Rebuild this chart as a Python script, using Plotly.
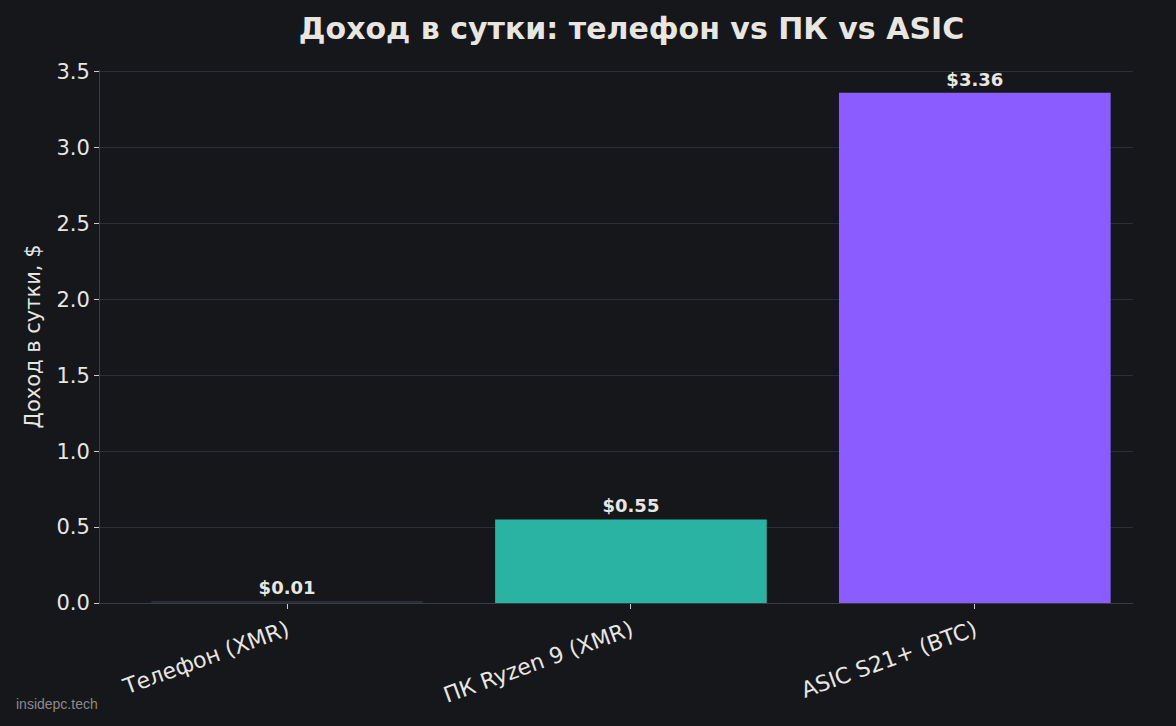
import plotly.graph_objects as go

devices = ["Телефон (XMR)", "ПК Ryzen 9 (XMR)", "ASIC S21+ (BTC)"]
income = [0.01, 0.55, 3.36]
labels = ["$0.01", "$0.55", "$3.36"]
colors = ["#2a2d35", "#2ab3a3", "#8b5cff"]
y_ticks = [0.0, 0.5, 1.0, 1.5, 2.0, 2.5, 3.0, 3.5]

bg = "#16171b"
fg = "#e8e6e1"

fig = go.Figure(go.Bar(
    x=list(range(len(devices))), y=income, marker_color=colors, marker_line_width=0,
    width=0.79, text=labels, textposition="outside", cliponaxis=False,
    textfont=dict(size=18, color=fg, family="DejaVu Sans", weight="bold"),
))

fig.update_layout(
    width=1176, height=726, paper_bgcolor=bg, plot_bgcolor=bg,
    margin=dict(l=100, r=43, t=70, b=123),
    font=dict(family="DejaVu Sans", color=fg, size=19),
    title=dict(text="<b>Доход в сутки: телефон vs ПК vs ASIC</b>", x=0.537, xanchor="center",
               y=0.961, yanchor="middle", font=dict(size=30, color=fg)),
    showlegend=False,
)
fig.update_xaxes(
    tickvals=list(range(len(devices))), ticktext=devices, tickangle=-20,
    range=[-0.544, 2.46], showgrid=False, zeroline=False,
    showline=True, linecolor="#3a3d45", ticks="outside", tickcolor="#cccccc",
    ticklen=5, tickfont=dict(size=22, color=fg),
)
fig.update_yaxes(
    title=dict(text="Доход в сутки, $", font=dict(size=21, color=fg), standoff=10),
    range=[0, 3.51], tickvals=y_ticks, ticktext=[f"{v:.1f}" for v in y_ticks],
    gridcolor="#2c2e35", zeroline=False, showline=True, linecolor="#3a3d45",
    ticks="outside", tickcolor="#cccccc", ticklen=5, tickfont=dict(size=21, color=fg),
)
fig.add_annotation(text="insidepc.tech", xref="paper", yref="paper", x=-0.083, y=-0.19,
                   xanchor="left", yanchor="middle", showarrow=False,
                   font=dict(size=14, color="#8a8a8a", family="Liberation Sans"))

fig.write_html("out.html", config={"displayModeBar": False},
               post_script="document.body.style.margin='0';")
